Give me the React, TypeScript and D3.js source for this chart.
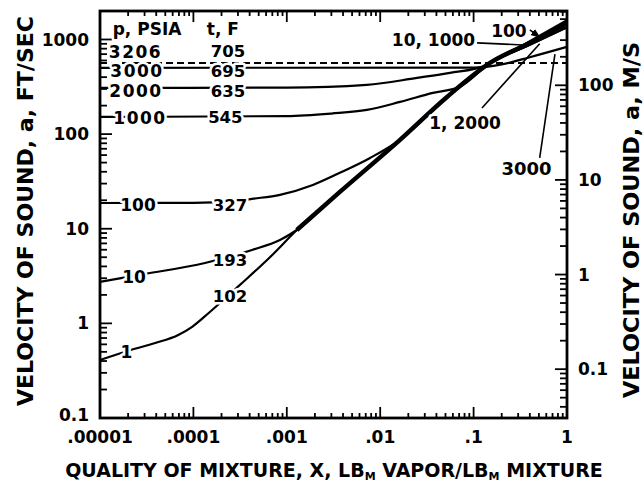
import React from 'react';
import * as d3 from 'd3';

// quality X (lbm vapor / lbm mixture) vs velocity of sound a (ft/sec)
const trunk = [[1.28e-3, 9.7], [3.7e-3, 24.5], [0.0163, 87], [0.0519, 247], [0.15, 566], [0.4, 920], [1, 1480]];

const p1 = [[1e-5, 0.41], [2.1e-5, 0.52], [3.9e-5, 0.62], [6.8e-5, 0.75], [9.7e-5, 0.92], [1.5e-4, 1.32], [3.15e-4, 2.55], [6.6e-4, 5.0], [1.28e-3, 9.7], [3.7e-3, 24.5], [0.0163, 87], [0.0519, 247], [0.15, 566], [0.4, 880], [1, 1350]];
const p10 = [[1e-5, 2.74], [3.03e-5, 3.33], [1.33e-4, 4.35], [4.24e-4, 5.97], [8.45e-4, 7.6], [1.28e-3, 9.7], [3.7e-3, 24.5], [0.0163, 87], [0.0519, 247], [0.15, 566], [0.4, 920], [1, 1480]];
const p100 = [[1e-5, 18.7], [1e-4, 18.8], [2.5e-4, 19.3], [4.24e-4, 20.7], [8.45e-4, 22.8], [1.9e-3, 29], [3.7e-3, 39], [7.8e-3, 56], [0.0163, 87], [0.0519, 247], [0.15, 566], [0.4, 960], [1, 1600]];
const p1000 = [[1e-5, 152], [1e-3, 155], [3e-3, 165], [7.2e-3, 180], [0.0163, 219], [0.0367, 273], [0.0715, 317], [0.15, 566], [0.4, 920], [1, 1480]];
const p2000 = [[1e-5, 308], [1e-3, 310], [7.2e-3, 331], [0.0248, 393], [0.0558, 444], [0.132, 526], [0.15, 566], [0.4, 880], [1, 1350]];
const p3000 = [[1e-5, 502], [0.1, 504], [0.2, 545], [0.4, 650], [1, 836]];
const p3206 = [[1e-5, 566], [1, 566]];

const qualityTicks = [1e-5, 1e-4, 1e-3, 1e-2, 1e-1, 1];
const qualityTickLabels = ['.00001', '.0001', '.001', '.01', '.1', '1'];
const ftTicks = [0.1, 1, 10, 100, 1000];
const ftTickLabels = ['0.1', '1', '10', '100', '1000'];
const msTicks = [0.1, 1, 10, 100];
const msTickLabels = ['0.1', '1', '10', '100'];
const FT_TO_M = 0.3048;

// pressure / saturation temperature labels on the left part of the curves
const pLabels = ['3206', '3000', '2000', '1000', '100', '10', '1'];
const pLabelQ = [2.4e-5, 2.49e-5, 2.43e-5, 2.68e-5, 2.55e-5, 2.31e-5, 1.92e-5];
const pLabelV = [748, 466, 286, 150, 17.9, 3.09, 0.499];
const tLabels = ['705', '695', '635', '545', '327', '193', '102'];
const tLabelQ = [2.35e-4, 2.35e-4, 2.35e-4, 2.2e-4, 2.46e-4, 2.46e-4, 2.46e-4];
const tLabelV = [748, 466, 286, 150, 17.9, 4.68, 1.95];

// labels for the vapor end (x = 1) with their leader lines
const endLabels = ['100', '10, 1000', '1, 2000', '3000'];
const endLabelQ = [0.239, 0.0372, 0.081, 0.368];
const endLabelV = [1248, 990, 131, 43.4];
const leaderFrom = [[0.4, 1262], [0.109, 921], [0.123, 189], [0.51, 56]];
const leaderTo = [[0.51, 1060], [0.38, 870], [0.51, 900], [0.743, 700]];

const font = '"DejaVu Sans", sans-serif';

export default function App() {
  const left = 100, right = 567, top = 11, bottom = 418;
  const x = d3.scaleLog().domain([1e-5, 1]).range([left, right]);
  const y = d3.scaleLog().domain([0.1, 2000]).range([bottom, top]);
  const yMs = d3.scaleLog().domain([0.1 * FT_TO_M, 2000 * FT_TO_M]).range([bottom, top]);
  const line = d3.line<number[]>().x(d => x(d[0])).y(d => y(d[1])).curve(d3.curveMonotoneX);

  const isMajor = (v: number) => Math.abs(Math.log10(v) - Math.round(Math.log10(v))) < 1e-9;
  const halo = { stroke: '#fff', strokeWidth: 5, paintOrder: 'stroke' as const, strokeLinejoin: 'round' as const };

  const curves = [p1, p10, p100, p1000, p2000, p3000];

  return (
    <svg width={644} height={483} style={{ position: 'absolute', left: 0, top: 0, background: '#fff' }}
      fontFamily={font} fontWeight="bold">
      <defs>
        <marker id="arr" viewBox="0 0 10 10" refX="9" refY="5" markerWidth="6" markerHeight="6" orient="auto">
          <path d="M0,1 L10,5 L0,9 z" fill="#000" />
        </marker>
      </defs>

      {/* curves */}
      <path d={line(p3206) || ''} fill="none" stroke="#000" strokeWidth={2} strokeDasharray="7 4" />
      {curves.map((c, i) => (
        <path key={i} d={line(c) || ''} fill="none" stroke="#000" strokeWidth={2.2} />
      ))}
      <path d={line(trunk) || ''} fill="none" stroke="#000" strokeWidth={4.5} />

      {/* x ticks, bottom and top, pointing inward */}
      {x.ticks().map((t, i) => {
        const len = isMajor(t) ? 11 : 5;
        return (
          <g key={'xt' + i} stroke="#000" strokeWidth={1.8}>
            <line x1={x(t)} x2={x(t)} y1={bottom} y2={bottom - len} />
            <line x1={x(t)} x2={x(t)} y1={top} y2={top + len} />
          </g>
        );
      })}
      {/* left ft/sec ticks */}
      {y.ticks().filter(t => t < 2000).map((t, i) => (
        <line key={'yl' + i} x1={left} x2={left + (isMajor(t) ? 12 : 7)} y1={y(t)} y2={y(t)} stroke="#000" strokeWidth={1.8} />
      ))}
      {/* right m/s ticks */}
      {yMs.ticks().map((t, i) => (
        <line key={'yr' + i} x1={right} x2={right - (isMajor(t) ? 12 : 7)} y1={yMs(t)} y2={yMs(t)} stroke="#000" strokeWidth={1.8} />
      ))}

      {/* frame */}
      <rect x={left} y={top} width={right - left} height={bottom - top} fill="none" stroke="#000" strokeWidth={2.8} />

      {/* tick labels */}
      {qualityTicks.map((t, i) => (
        <text key={'xl' + i} x={x(t)} y={443} textAnchor="middle" fontSize={17}>{qualityTickLabels[i]}</text>
      ))}
      {ftTicks.map((t, i) => (
        <text key={'fl' + i} x={89} y={y(t) - (t === 0.1 ? 3 : 0)} dy="0.36em" textAnchor="end" fontSize={17}>{ftTickLabels[i]}</text>
      ))}
      {msTicks.map((t, i) => (
        <text key={'ml' + i} x={578} y={yMs(t)} dy="0.36em" textAnchor="start" fontSize={17}>{msTickLabels[i]}</text>
      ))}

      {/* curve labels */}
      <text x={x(3.19e-5)} y={29} dy="0.36em" textAnchor="middle" fontSize={17} {...halo}>p, PSIA</text>
      <text x={x(2.07e-4)} y={29} dy="0.36em" textAnchor="middle" fontSize={17} {...halo}>t, F</text>
      {pLabels.map((s, i) => (
        <text key={'pl' + i} x={x(pLabelQ[i])} y={y(pLabelV[i])} dy="0.36em" textAnchor="middle" fontSize={17}
          letterSpacing={i < 4 ? 1.5 : 0} {...halo}>{s}</text>
      ))}
      {tLabels.map((s, i) => (
        <text key={'tl' + i} x={x(tLabelQ[i])} y={y(tLabelV[i])} dy="0.36em" textAnchor="middle" fontSize={16.5} {...halo}>{s}</text>
      ))}

      {/* leaders + end labels */}
      {leaderFrom.map((f, i) => (
        <line key={'ld' + i} x1={x(f[0])} y1={y(f[1])} x2={x(leaderTo[i][0])} y2={y(leaderTo[i][1])}
          stroke="#000" strokeWidth={1.6} markerEnd={i === 0 ? 'url(#arr)' : undefined} />
      ))}
      {endLabels.map((s, i) => (
        <text key={'el' + i} x={x(endLabelQ[i])} y={y(endLabelV[i])} dy="0.36em" textAnchor="middle"
          fontSize={i === 3 ? 18 : 17} {...halo}>{s}</text>
      ))}

      {/* axis titles */}
      <text x={334} y={477} textAnchor="middle" fontSize={19}>
        QUALITY OF MIXTURE, X, LB<tspan fontSize={11} dy={3}>M</tspan>
        <tspan dy={-3}> VAPOR/LB</tspan><tspan fontSize={11} dy={3}>M</tspan>
        <tspan dy={-3}> MIXTURE</tspan>
      </text>
      <text transform="translate(33,211) rotate(-90)" textAnchor="middle" fontSize={22}
        textLength={390} lengthAdjust="spacingAndGlyphs">VELOCITY OF SOUND, a, FT/SEC</text>
      <text transform="translate(639,220) rotate(-90)" textAnchor="middle" fontSize={21}
        textLength={356} lengthAdjust="spacingAndGlyphs">VELOCITY OF SOUND, a, M/S</text>
    </svg>
  );
}
